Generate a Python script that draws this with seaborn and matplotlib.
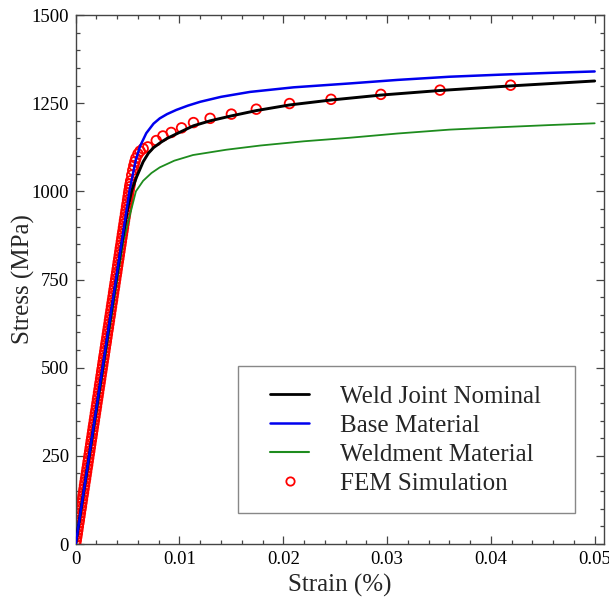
import matplotlib
matplotlib.use("Agg")
import matplotlib.pyplot as plt
import seaborn as sns
from matplotlib.lines import Line2D
from matplotlib.legend_handler import HandlerLine2D
from matplotlib.ticker import MultipleLocator, FuncFormatter

# ---- stress-strain data ----
weld_strain = [0, 0.0044, 0.0050, 0.0054, 0.00587, 0.0065, 0.0070, 0.0075, 0.0082, 0.0088,
               0.0102, 0.01135, 0.01295, 0.0150, 0.0174, 0.0206, 0.0246, 0.0294, 0.0351,
               0.0419, 0.050]
weld_stress = [0, 845, 950, 1003, 1041, 1084, 1108, 1124, 1139, 1150,
               1170, 1186, 1200, 1214, 1229, 1245, 1259, 1273, 1286,
               1299, 1313]

base_strain = [0, 0.0044, 0.0052, 0.0058, 0.0062, 0.0068, 0.0075, 0.0081, 0.0088, 0.0097,
               0.0108, 0.012, 0.014, 0.0168, 0.021, 0.0264, 0.031, 0.036, 0.041, 0.0457, 0.050]
base_stress = [0, 850, 1005, 1090, 1128, 1165, 1192, 1207, 1219, 1231,
               1243, 1254, 1268, 1282, 1295, 1306, 1316, 1325, 1331, 1336, 1340]

weldment_strain = [0, 0.0046, 0.0058, 0.0065, 0.0073, 0.0081, 0.0095, 0.0113, 0.0145, 0.0178,
                   0.0220, 0.0264, 0.031, 0.036, 0.041, 0.0457, 0.050]
weldment_stress = [0, 860, 1000, 1030, 1052, 1068, 1087, 1103, 1118, 1130,
                   1142, 1152, 1164, 1175, 1182, 1188, 1193]

fem_strain = [0.00000, 0.00005, 0.00010, 0.00015, 0.00020, 0.00025, 0.00030, 0.00035,
              0.00040, 0.00045, 0.00050, 0.00055, 0.00060, 0.00065, 0.00070, 0.00075,
              0.00080, 0.00085, 0.00090, 0.00095, 0.00100, 0.00105, 0.00110, 0.00115,
              0.00120, 0.00125, 0.00130, 0.00135, 0.00140, 0.00145, 0.00150, 0.00155,
              0.00160, 0.00165, 0.00170, 0.00175, 0.00180, 0.00185, 0.00190, 0.00195,
              0.00200, 0.00205, 0.00210, 0.00215, 0.00220, 0.00225, 0.00230, 0.00235,
              0.00240, 0.00245, 0.00250, 0.00255, 0.00260, 0.00265, 0.00270, 0.00275,
              0.00280, 0.00285, 0.00290, 0.00295, 0.00300, 0.00305, 0.00310, 0.00315,
              0.00320, 0.00325, 0.00330, 0.00335, 0.00340, 0.00345, 0.00350, 0.00355,
              0.00360, 0.00365, 0.00370, 0.00375, 0.00380, 0.00385, 0.00390, 0.00395,
              0.00400, 0.00405, 0.00410, 0.00415, 0.00420, 0.00425, 0.00430, 0.00435,
              0.00440, 0.00445, 0.00450, 0.00455, 0.00460, 0.00465, 0.00470, 0.00475,
              0.00480, 0.00485, 0.00490, 0.00495, 0.00500, 0.00505, 0.00510, 0.00515,
              0.00520, 0.00525, 0.00530, 0.00540, 0.00550, 0.00560, 0.00570, 0.00580,
              0.00600, 0.00620, 0.00650, 0.00695, 0.00776, 0.00840, 0.00920, 0.01020,
              0.01135, 0.01295, 0.01500, 0.01740, 0.02060, 0.02460, 0.02940, 0.03510,
              0.04190]
fem_stress = [0, 10, 20, 29, 39, 49, 59, 68,
              78, 88, 98, 107, 117, 127, 137, 146,
              156, 166, 176, 185, 195, 205, 215, 224,
              234, 244, 254, 263, 273, 283, 293, 302,
              312, 322, 332, 341, 351, 361, 371, 380,
              390, 400, 410, 419, 429, 439, 449, 458,
              468, 478, 488, 497, 507, 517, 527, 536,
              546, 556, 566, 575, 585, 595, 605, 614,
              624, 634, 644, 653, 663, 673, 683, 692,
              702, 712, 722, 731, 741, 751, 761, 770,
              780, 790, 800, 809, 819, 829, 839, 848,
              858, 868, 878, 887, 897, 907, 917, 926,
              936, 946, 956, 965, 975, 985, 995, 1004,
              1013, 1021, 1030, 1046, 1060, 1073, 1084, 1094,
              1106, 1114, 1121, 1126, 1144, 1157, 1167, 1180,
              1195, 1207, 1219, 1233, 1249, 1261, 1275, 1287,
              1301]

labels = ["Weld Joint Nominal", "Base Material", "Weldment Material", "FEM Simulation"]
colors = ["black", "#0000ee", "#1e8c1e", "#ff0000"]

sns.set_theme(style="ticks")
plt.rcParams["font.family"] = ["Liberation Serif", "DejaVu Serif"]

fig = plt.figure(figsize=(6.09, 6.06), dpi=100)
ax = fig.add_axes([0.1243, 0.1023, 0.8675, 0.8729])

sns.scatterplot(x=fem_strain, y=fem_stress, marker="o", s=48, facecolor="none",
                edgecolor=colors[3], linewidth=1.3, ax=ax, zorder=1, legend=False)
sns.lineplot(x=weldment_strain, y=weldment_stress, color=colors[2], lw=1.3,
             estimator=None, sort=False, ax=ax, zorder=2)
sns.lineplot(x=weld_strain, y=weld_stress, color=colors[0], lw=2.1,
             estimator=None, sort=False, ax=ax, zorder=3)
sns.lineplot(x=base_strain, y=base_stress, color=colors[1], lw=1.8,
             estimator=None, sort=False, ax=ax, zorder=4)

ax.set_xlim(0, 0.0509)
ax.set_ylim(0, 1500)
ax.xaxis.set_major_locator(MultipleLocator(0.01))
ax.xaxis.set_minor_locator(MultipleLocator(0.002))
ax.yaxis.set_major_locator(MultipleLocator(250))
ax.yaxis.set_minor_locator(MultipleLocator(50))
ax.xaxis.set_major_formatter(FuncFormatter(lambda v, p: f"{v:g}"))

ax.tick_params(which="both", direction="in", top=True, right=True,
               color="#444444", labelcolor="black", width=0.9, labelsize=13.5, pad=5)
ax.tick_params(which="major", length=6)
ax.tick_params(which="minor", length=3)
for sp in ax.spines.values():
    sp.set_color("#444444")
    sp.set_linewidth(1.0)

ax.set_xlabel("Strain (%)", fontsize=18, labelpad=4)
ax.set_ylabel("Stress (MPa)", fontsize=18, labelpad=-3)

handles = [Line2D([], [], color=colors[0], lw=2.0),
           Line2D([], [], color=colors[1], lw=1.8),
           Line2D([], [], color=colors[2], lw=1.5),
           Line2D([], [], color=colors[3], lw=0, marker="o", markersize=6,
                  markerfacecolor="none", markeredgewidth=1.3)]
leg = ax.legend(handles, labels, loc="lower left",
                bbox_to_anchor=(0.3078, 0.058, 0.6373, 0.28), mode="expand",
                fontsize=18, frameon=True, fancybox=False, framealpha=1,
                edgecolor="#888888", borderpad=0.75, labelspacing=0.26,
                handlelength=2.08, handletextpad=1.25, borderaxespad=0,
                handler_map={Line2D: HandlerLine2D(xpad=0.52)})
leg.get_frame().set_linewidth(1.0)

fig.savefig("out.png", dpi=100)
